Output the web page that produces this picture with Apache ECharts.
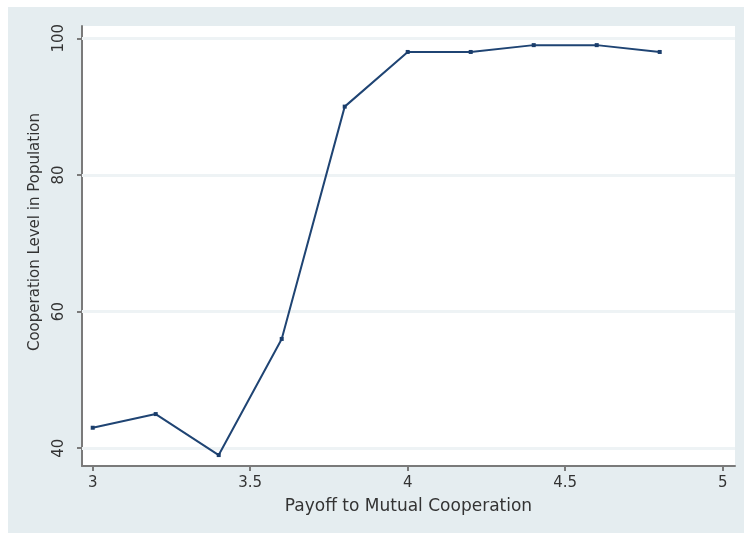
<!DOCTYPE html>
<html>
  <head>
    <meta charset="utf-8" />
    <title></title>
    <style type="text/css">
      html,
      body {
        margin: 0;
        width: 100%;
        height: 100%;
        background: #ffffff;
      }
      #chart {
        width: 744px;
        height: 533px;
      }
    </style>
  </head>
  <body>
    <div id="chart"></div>
    <script src="https://cdn.jsdelivr.net/npm/echarts@6/dist/echarts.min.js"></script>
    <script type="text/javascript">
      // payoff values (x) and cooperation level (y)
      var payoff = [3, 3.2, 3.4, 3.6, 3.8, 4, 4.2, 4.4, 4.6, 4.8];
      var cooperation = [43, 45, 39, 56, 90, 98, 98, 99, 99, 98];
      var xTicks = [3, 3.5, 4, 4.5, 5];
      var yTicks = [40, 60, 80, 100];

      var points = payoff.map(function (x, i) {
        return [x, cooperation[i]];
      });

      var chart = echarts.init(document.getElementById("chart"));
      var font = "DejaVu Sans";

      var option = {
        backgroundColor: "#ffffff",
        animation: false,
        graphic: [
          {
            type: "rect",
            z: -10,
            shape: { x: 8, y: 7, width: 736, height: 526 },
            style: { fill: "#e5edf0" },
          },
        ],
        grid: {
          left: 82,
          right: 9,
          top: 26,
          bottom: 67,
          show: true,
          backgroundColor: "#ffffff",
          borderWidth: 0,
        },
        xAxis: {
          type: "value",
          min: 2.966,
          max: 5.039,
          name: "Payoff to Mutual Cooperation",
          nameLocation: "middle",
          nameGap: 32,
          nameTextStyle: { fontFamily: font, fontSize: 17, color: "#333" },
          axisLine: { onZero: false, lineStyle: { color: "#7a7a7a", width: 2 } },
          axisTick: {
            customValues: xTicks,
            length: 5,
            lineStyle: { color: "#7a7a7a", width: 2 },
          },
          axisLabel: {
            customValues: xTicks,
            fontFamily: font,
            fontSize: 15,
            color: "#333",
            margin: 10,
          },
          splitLine: { show: false },
        },
        yAxis: {
          type: "value",
          min: 37.4,
          max: 101.8,
          name: "Cooperation Level in Population",
          nameLocation: "middle",
          nameGap: 39,
          nameRotate: 90,
          nameTextStyle: {
            fontFamily: font,
            fontSize: 15,
            color: "#333",
            padding: [0, 0, 0, 28],
          },
          axisLine: { show: true, onZero: false, lineStyle: { color: "#7a7a7a", width: 2 } },
          axisTick: {
            show: true,
            customValues: yTicks,
            length: 5,
            lineStyle: { color: "#7a7a7a", width: 2 },
          },
          axisLabel: {
            customValues: yTicks,
            rotate: 90,
            fontFamily: font,
            fontSize: 15,
            color: "#333",
            margin: 15,
          },
          splitLine: { show: false },
        },
        series: [
          {
            type: "line",
            data: points,
            symbol: "rect",
            symbolSize: 4,
            lineStyle: { color: "#1f4473", width: 2 },
            itemStyle: { color: "#1a3d6b" },
            z: 5,
            markLine: {
              silent: true,
              symbol: "none",
              label: { show: false },
              z: 1,
              lineStyle: { color: "#eef3f5", width: 3, type: "solid" },
              data: yTicks.map(function (v) {
                return { yAxis: v };
              }),
            },
          },
        ],
      };

      chart.setOption(option);
    </script>
  </body>
</html>
